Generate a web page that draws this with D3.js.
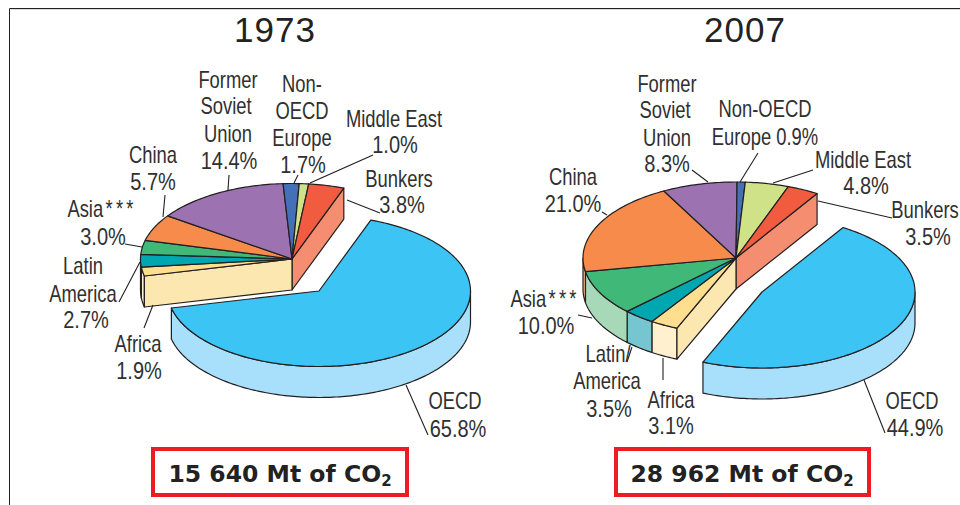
<!DOCTYPE html>
<html><head><meta charset="utf-8">
<script src="https://cdn.jsdelivr.net/npm/d3@7"></script>
<style>html,body{margin:0;padding:0;background:#fff}svg{display:block}</style>
</head><body><svg id="c" width="960" height="505"></svg>
<script>
const categories = ["OECD","Africa","Latin America","Asia***","China","Former Soviet Union","Non-OECD Europe","Middle East","Bunkers"];
const values1973 = [65.8,1.9,2.7,3.0,5.7,14.4,1.7,1.0,3.8];
const values2007 = [44.9,3.1,3.5,10.0,21.0,8.3,0.9,4.8,3.5];
const topColors  = ["#3cc4f4","#fedf8f","#00a6b0","#3fb878","#f68b4c","#9c72b1","#4470b8","#cfe288","#f15b40"];
const wallColors = ["#a8dffb","#fff0cf","#75c6d0","#a7d9b9","#f9b48c","#c5aed3","#8fa6d6","#e4efbd","#f58e70"];
const titles = ["1973","2007"];
const totals = ["15 640 Mt of CO","28 962 Mt of CO"];

const pies = [
 {values:values1973,title:titles[0],total:totals[0],titleX:275,
  apex:[292,259],oecdApex:[319,291],rx:151.5,ry:75.5,cut:[20,257],
  box:[153,449,254,46],totalX:280,
  labels:[
   [228,88,"Former"],[226,114,"Soviet"],[228,142,"Union"],[229,169,"14.4%"],
   [302,92,"Non-"],[302,119,"OECD"],[302,146,"Europe"],[303,173,"1.7%"],
   [394,127,"Middle East"],[395,153,"1.0%"],
   [399,187,"Bunkers"],[402,213,"3.8%"],
   [153,163,"China"],[153,190,"5.7%"],
   [102,217,"Asia***"],[103,245,"3.0%"],
   [83,274,"Latin"],[83,302,"America"],[86,328,"2.7%"],
   [138,352,"Africa"],[139,379,"1.9%"],
   [455,409,"OECD"],[458,437,"65.8%"]],
  leaders:[[229,175,228,190],[298,175,294,183],[373,155,310,183],[380,213,347,200],
   [165,195,163,217],[125,244,142,247],[119,302,140,262],[144,328,153,305],[428,435,406,385]]},
 {values:values2007,title:titles[1],total:totals[1],titleX:745,
  apex:[736,258],oecdApex:[762,292],rx:153,ry:76,cut:[32,202.7],
  box:[616,449,253,46],totalX:742,
  labels:[
   [667,92,"Former"],[665,118,"Soviet"],[667,146,"Union"],[667,172,"8.3%"],
   [765,117,"Non-OECD"],[765,145,"Europe 0.9%"],
   [863,168,"Middle East"],[866,194,"4.8%"],
   [925,218,"Bunkers"],[928,245,"3.5%"],
   [573,185,"China"],[573,212,"21.0%"],
   [545,307,"Asia***"],[546,334,"10.0%"],
   [608,362,"Latin/"],[607,389,"America"],[609,417,"3.5%"],
   [671,408,"Africa"],[671,434,"3.1%"],
   [912,409,"OECD"],[915,436,"44.9%"]],
  leaders:[[692,170,708,182],[758,153,740,182],[813,170,773,183],[892,218,818,201],
   [602,212,607,215],[578,315,592,318],[627,362,632,347],[663,380,663,358],[885,433,864,380]]}
];
const depth = 31;
const ink = "#231f20", textInk = "#303030";
const rad = d3.scaleLinear().domain([0,360]).range([0,2*Math.PI]);
const svg = d3.select("#c");

// frame
svg.append("path").attr("d","M9.5 505V8.5H960").attr("fill","none").attr("stroke","#222").attr("stroke-width",1);
svg.append("path").attr("d","M10.5 9.5H960").attr("fill","none").attr("stroke","#ddd").attr("stroke-width",1);

const lineGen = d3.line();
function pt(c,p,a,dz=0){return [c[0]+p.rx*Math.sin(a), c[1]-p.ry*Math.cos(a)+dz];}
function samples(a0,a1){
  const n=Math.max(2,Math.ceil(Math.abs(a1-a0)/0.02));
  return d3.range(n+1).map(i=>a0+(a1-a0)*i/n);
}
function topFace(c,p,a0,a1){return lineGen([c,...samples(a0,a1).map(a=>pt(c,p,a))])+"Z";}
function wall(c,p,a0,a1){
  const lo=Math.max(a0,rad(90)), hi=Math.min(a1,rad(270));
  if(hi<=lo) return null;
  const s=samples(lo,hi);
  return lineGen([...s.map(a=>pt(c,p,a)),...s.slice().reverse().map(a=>pt(c,p,a,depth))])+"Z";
}
function face(c,p,a){
  const r=pt(c,p,a);
  return lineGen([c,r,[r[0],r[1]+depth],[c[0],c[1]+depth]])+"Z";
}
const squeeze = s => /^[\d.]+%$/.test(s) ? 0.87 : 0.8;

pies.forEach(p=>{
  const g=svg.append("g");
  const rest=p.values.slice(1);
  const [c0,c1]=p.cut.map(rad);
  // the pulled-out OECD wedge
  g.append("path").attr("d",wall(p.oecdApex,p,c0,c1)).attr("fill",wallColors[0]).attr("stroke",ink).attr("stroke-width",1.2).attr("stroke-linejoin","round");
  g.append("path").attr("d",topFace(p.oecdApex,p,c0,c1)).attr("fill",topColors[0]).attr("stroke",ink).attr("stroke-width",1.2).attr("stroke-linejoin","round");
  // remaining wedges
  const layout=d3.pie().sort(null).startAngle(c1).endAngle(c0+2*Math.PI)(rest);
  const body=g.append("g").attr("stroke",ink).attr("stroke-width",1.2).attr("stroke-linejoin","round");
  body.append("path").attr("d",face(p.apex,p,layout[layout.length-1].endAngle)).attr("fill",wallColors[8]);
  body.selectAll("path.w").data(layout).join("path").attr("class","w")
    .attr("d",d=>wall(p.apex,p,d.startAngle,d.endAngle))
    .attr("fill",d=>wallColors[d.index+1]);
  body.append("path").attr("d",face(p.apex,p,layout[0].startAngle)).attr("fill","#fde7b0");
  body.selectAll("path.t").data(layout).join("path").attr("class","t")
    .attr("d",d=>topFace(p.apex,p,d.startAngle,d.endAngle))
    .attr("fill",d=>topColors[d.index+1]);
  // leader lines
  g.selectAll("line").data(p.leaders).join("line")
    .attr("x1",d=>d[0]).attr("y1",d=>d[1]).attr("x2",d=>d[2]).attr("y2",d=>d[3])
    .attr("stroke",ink).attr("stroke-width",1.1);
  // labels, squeezed to the condensed look of the original face
  g.selectAll("text.l").data(p.labels).join("text").attr("class","l")
    .attr("transform",d=>`translate(${d[0]},${d[1]}) scale(${squeeze(d[2])},1)`).attr("text-anchor","middle")
    .attr("font-family","'Liberation Sans',sans-serif")
    .attr("font-size",23).attr("fill",textInk)
    .each(function(d){
      const m=d[2].match(/^([^*]*)(\*+)$/), el=d3.select(this);
      if(m){
        el.append("tspan").text(m[1]);
        el.append("tspan").attr("letter-spacing",4).attr("dx",3).text(m[2]);
      } else el.text(d[2]);
    });
  // title
  g.append("text").attr("x",p.titleX).attr("y",42).attr("text-anchor","middle")
    .attr("font-family","'Liberation Sans',sans-serif").attr("font-size",35)
    .attr("letter-spacing",1).attr("fill","#222").text(p.title);
  // total box
  g.append("rect").attr("x",p.box[0]).attr("y",p.box[1]).attr("width",p.box[2]).attr("height",p.box[3])
    .attr("fill","#fff").attr("stroke","#ed1c24").attr("stroke-width",4);
  const t=g.append("text").attr("x",p.totalX).attr("y",482).attr("text-anchor","middle")
    .attr("font-family","'DejaVu Sans',sans-serif").attr("font-weight","bold").attr("font-size",23.5).attr("fill","#222");
  t.append("tspan").text(p.total);
  t.append("tspan").attr("dy",4).attr("font-size",15).text("2");
});
</script></body></html>
